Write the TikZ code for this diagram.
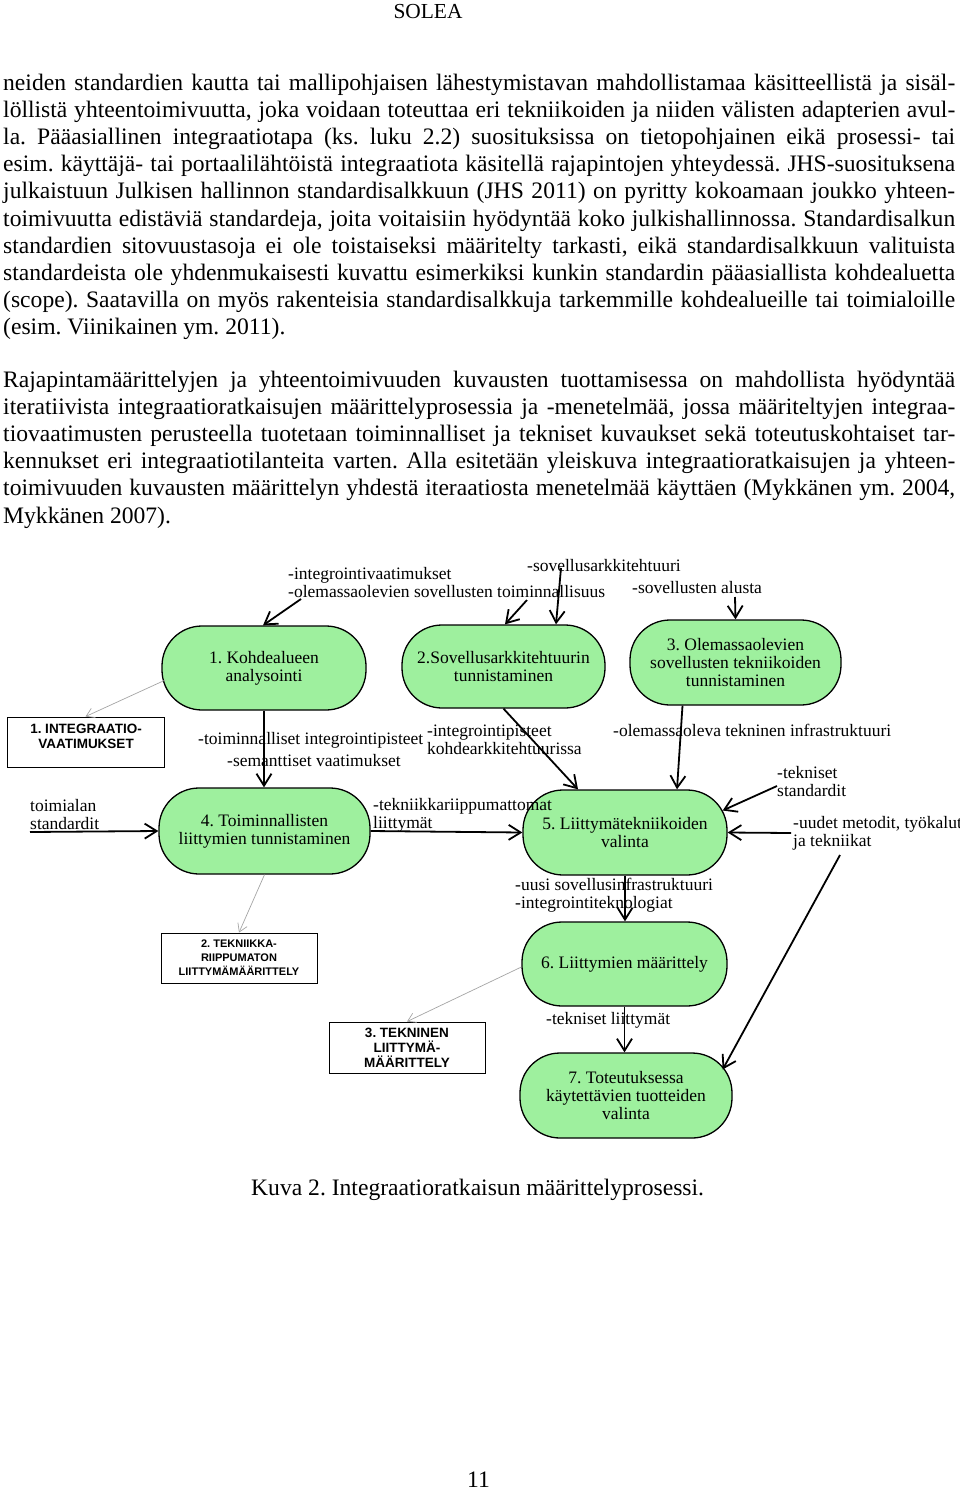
\documentclass[tikz,border=0pt]{standalone}
\usepackage{fontspec}
\setmainfont{Liberation Serif}
\setsansfont{Liberation Sans}
\usetikzlibrary{arrows.meta,calc}
\frenchspacing
\definecolor{procgreen}{RGB}{158,240,158}
\definecolor{infogray}{RGB}{165,165,165}
\newcommand\bodyfont{\fontsize{23.6}{27}\selectfont}
\newcommand\headfont{\fontsize{21.4}{24}\selectfont}
\newcommand\diafont{\fontsize{17.5}{18}\selectfont}
\newcommand\boxfontA{\sffamily\bfseries\fontsize{13.5}{15}\selectfont}
\newcommand\boxfontB{\sffamily\bfseries\fontsize{11}{14}\selectfont}
\newcommand\jline[3]{\node[bodyline] (#1) at (3,#2) {\makebox[952pt][s]{#3}};}
\tikzset{
  bodyline/.style={anchor=base west, inner sep=0pt, font=\bodyfont},
  proc/.style={draw=black, line width=1.3pt, fill=procgreen, rounded corners=40pt,
    align=center, font=\diafont, inner sep=0pt},
  docbox/.style={draw=black, line width=0.9pt, fill=white, inner sep=0pt},
  doctext/.style={align=center, inner sep=0pt},
  lbl/.style={anchor=base west, inner sep=0pt, font=\diafont},
  flow/.style={line width=1.8pt, -{Straight Barb[length=12pt,width=15pt]}},
  info/.style={draw=infogray, line width=0.7pt, -{Straight Barb[length=8pt,width=10pt]}},
}
\begin{document}
\begin{tikzpicture}[x=1pt,y=-1pt]
\fill[white] (0,0) rectangle (960,1491);
\useasboundingbox (0,0) rectangle (960,1491);

% header
\node[anchor=base, inner sep=0pt, font=\headfont] (head) at (428,18) {SOLEA};

% paragraph 1
\jline{pa1}{90}{neiden standardien kautta tai mallipohjaisen lähestymistavan mahdollistamaa käsitteellistä ja sisäl-}
\jline{pa2}{117.2}{löllistä yhteentoimivuutta, joka voidaan toteuttaa eri tekniikoiden ja niiden välisten adapterien avul-}
\jline{pa3}{144.4}{la. Pääasiallinen integraatiotapa (ks. luku 2.2) suosituksissa on tietopohjainen eikä prosessi- tai}
\jline{pa4}{171.6}{esim. käyttäjä- tai portaalilähtöistä integraatiota käsitellä rajapintojen yhteydessä. JHS-suosituksena}
\jline{pa5}{198.8}{julkaistuun Julkisen hallinnon standardisalkkuun (JHS 2011) on pyritty kokoamaan joukko yhteen-}
\jline{pa6}{226}{toimivuutta edistäviä standardeja, joita voitaisiin hyödyntää koko julkishallinnossa. Standardisalkun}
\jline{pa7}{253.2}{standardien sitovuustasoja ei ole toistaiseksi määritelty tarkasti, eikä standardisalkkuun valituista}
\jline{pa8}{280.4}{standardeista ole yhdenmukaisesti kuvattu esimerkiksi kunkin standardin pääasiallista kohdealuetta}
\jline{pa9}{307.6}{(scope). Saatavilla on myös rakenteisia standardisalkkuja tarkemmille kohdealueille tai toimialoille}
\node[bodyline] (pa10) at (3,334.8) {(esim. Viinikainen ym. 2011).};

% paragraph 2
\jline{pb1}{387}{Rajapintamäärittelyjen ja yhteentoimivuuden kuvausten tuottamisessa on mahdollista hyödyntää}
\jline{pb2}{414.2}{iteratiivista integraatioratkaisujen määrittelyprosessia ja -menetelmää, jossa määriteltyjen integraa-}
\jline{pb3}{441.4}{tiovaatimusten perusteella tuotetaan toiminnalliset ja tekniset kuvaukset sekä toteutuskohtaiset tar-}
\jline{pb4}{468.6}{kennukset eri integraatiotilanteita varten. Alla esitetään yleiskuva integraatioratkaisujen ja yhteen-}
\jline{pb5}{495.8}{toimivuuden kuvausten määrittelyn yhdestä iteraatiosta menetelmää käyttäen (Mykkänen ym. 2004,}
\node[bodyline] (pb6) at (3,523) {Mykkänen 2007).};

% process nodes
\node[proc, minimum width=204pt, minimum height=84pt] (n1) at (264,668) {1. Kohdealueen\\analysointi};
\node[proc, minimum width=203pt, minimum height=83pt] (n2) at (503.5,666.5) {2.Sovellusarkkitehtuurin\\tunnistaminen};
\node[proc, minimum width=211pt, minimum height=85pt] (n3) at (735.5,662.5) {3. Olemassaolevien\\sovellusten tekniikoiden\\tunnistaminen};
\node[proc, minimum width=211pt, minimum height=86pt] (n4) at (264.5,831) {4. Toiminnallisten\\liittymien tunnistaminen};
\node[proc, minimum width=204pt, minimum height=85pt] (n5) at (625,832.5) {5. Liittymätekniikoiden\\valinta};
\node[proc, minimum width=205pt, minimum height=84pt] (n6) at (624.5,964) {6. Liittymien määrittely};
\node[proc, minimum width=212pt, minimum height=85pt] (n7) at (626,1095.5) {7. Toteutuksessa\\käytettävien tuotteiden\\valinta};

% document boxes
\node[docbox, minimum width=157pt, minimum height=50pt] (r1) at (85.5,742) {};
\node[doctext, font=\boxfontA] (r1t) at (86,736) {1. INTEGRAATIO-\\VAATIMUKSET};
\node[docbox, minimum width=156pt, minimum height=50pt] (r2) at (239,958) {};
\node[doctext, font=\boxfontB] (r2t) at (239,957.5) {2. TEKNIIKKA-\\RIIPPUMATON\\LIITTYMÄMÄÄRITTELY};
\node[docbox, minimum width=156pt, minimum height=51pt] (r3) at (407,1047.5) {};
\node[doctext, font=\boxfontA] (r3t) at (407,1048) {3. TEKNINEN\\LIITTYMÄ-\\MÄÄRITTELY};

% labels
\node[lbl] (l1) at (288,579) {-integrointivaatimukset};
\node[lbl] (l2) at (288,597) {-olemassaolevien sovellusten toiminnallisuus};
\node[lbl] (l3) at (527,571) {-sovellusarkkitehtuuri};
\node[lbl] (l4) at (632,593) {-sovellusten alusta};
\node[lbl] (l5) at (198,744) {-toiminnalliset integrointipisteet};
\node[lbl] (l6) at (227,766) {-semanttiset vaatimukset};
\node[lbl] (l7) at (427,736) {-integrointipisteet};
\node[lbl] (l8) at (427,754) {kohdearkkitehtuurissa};
\node[lbl] (l9) at (613,736) {-olemassaoleva tekninen infrastruktuuri};
\node[lbl] (l10) at (777,778) {-tekniset};
\node[lbl] (l11) at (777,796) {standardit};
\node[lbl] (l12) at (373,810) {-tekniikkariippumattomat};
\node[lbl] (l13) at (373,828) {liittymät};
\node[lbl] (l14) at (793,828) {-uudet metodit, työkalut};
\node[lbl] (l15) at (793,846) {ja tekniikat};
\node[lbl] (l16) at (515,890) {-uusi sovellusinfrastruktuuri};
\node[lbl] (l17) at (515,908) {-integrointiteknologiat};
\node[lbl] (l18) at (546,1024) {-tekniset liittymät};
\node[lbl] (l19) at (30,811) {toimialan};
\node[lbl] (l20) at (30,829) {standardit};

% free ends of input arrows
\coordinate (c1) at (301,599);
\coordinate (c2) at (527,600);
\coordinate (c3) at (561,568);
\coordinate (c4) at (735,597);
\coordinate (c8) at (777,786);
\coordinate (c9) at (791,833);
\coordinate (c13) at (840,855);
\coordinate (c14) at (30,832);

% black flow arrows
\draw[flow] (c1) -- ($(n1.north)+(-1,0)$);
\draw[flow] (c2) -- ($(n2.north)+(1.5,0)$);
\draw[flow] (c3) -- ($(n2.north)+(52.5,0)$);
\draw[flow] (c4) -- (n3.north);
\draw[flow] (n1.south) -- ($(n4.north)+(-0.5,0)$);
\draw[flow] (n2.south) -- ($(n5.north)+(-47,0)$);
\draw[flow] ($(n3.south)+(-53,0)$) -- ($(n5.north)+(52,0)$);
\draw[flow] (c8) -- ($(n5.east)+(-5,-22)$);
\draw[flow] (c9) -- (n5.east);
\draw[flow] (n4.east) -- (n5.west);
\draw[flow] (c14) -- (n4.west);
\draw[flow] (n5.south) -- ($(n6.north)+(0.5,0)$);
\draw[flow] (n6.south) -- ($(n7.north)+(-1.5,0)$);
\draw[flow] (c13) -- ($(n7.east)+(-10,-26)$);

% grey information arrows
\draw[info] ($(n1.west)+(4,12)$) -- (r1.north);
\draw[info] (n4.south) -- (r2.north);
\draw[info] ($(n6.west)+(0,3)$) -- (r3.north);

% caption and page number
\node[anchor=base west, inner sep=0pt, font=\bodyfont] (cap) at (251,1195) {Kuva 2. Integraatioratkaisun määrittelyprosessi.};
\node[anchor=base, inner sep=0pt, font=\bodyfont] (pnum) at (478.5,1487) {11};
\end{tikzpicture}
\end{document}
